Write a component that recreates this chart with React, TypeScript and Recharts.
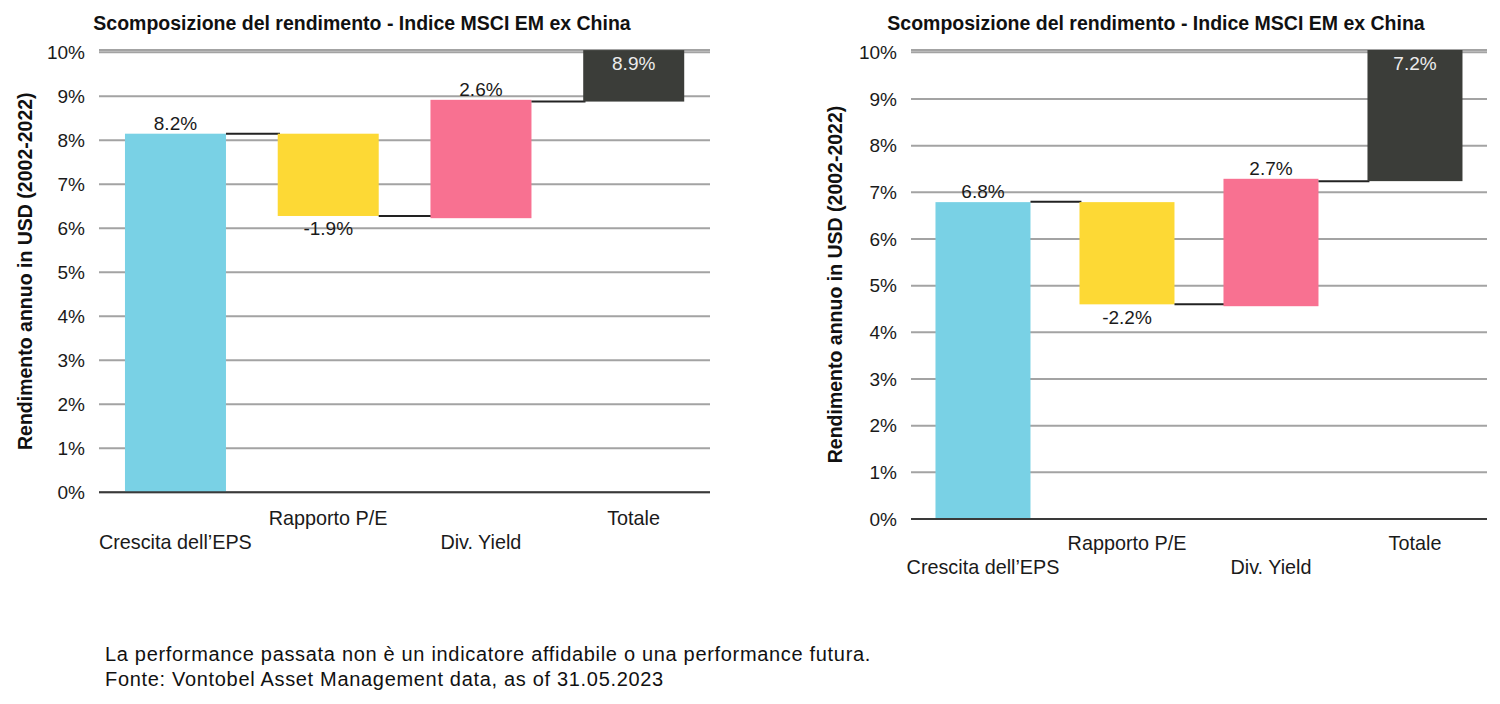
import React from 'react';
import { BarChart, Bar, XAxis, YAxis, CartesianGrid } from 'recharts';

// ---- data ----
const categories = ['Crescita dell\u2019EPS', 'Rapporto P/E', 'Div. Yield', 'Totale'];
const yTicks = [0, 1, 2, 3, 4, 5, 6, 7, 8, 9, 10];

const leftLow = [0, 6.28, 6.23, 8.88];
const leftHigh = [8.15, 8.15, 8.92, 10.05];
const leftLabels = [8.2, -1.9, 2.6, 8.9];
const leftLinks = [8.15, 6.28, 8.88, null];

const rightLow = [0, 4.6, 4.56, 7.24];
const rightHigh = [6.79, 6.79, 7.29, 10.05];
const rightLabels = [6.8, -2.2, 2.7, 7.2];
const rightLinks = [6.8, 4.6, 7.24, null];

const titleText = 'Scomposizione del rendimento - Indice MSCI EM ex China';
const yAxisTitle = 'Rendimento annuo in USD (2002-2022)';
const footerLines = [
  'La performance passata non \u00e8 un indicatore affidabile o una performance futura.',
  'Fonte: Vontobel Asset Management data, as of 31.05.2023',
];

// ---- styles ----
const barColors = ['#79d1e5', '#fdd935', '#f87191', '#3b3d39'];
const FONT = '"Liberation Sans", Arial, Helvetica, sans-serif';
const CAT_GAP = 0.17;

const buildData = (low: number[], high: number[], labels: number[], links: (number | null)[]) =>
  categories.map((name, i) => ({
    name,
    range: [low[i], high[i]],
    label: labels[i],
    link: links[i],
  }));

const leftData = buildData(leftLow, leftHigh, leftLabels, leftLinks);
const rightData = buildData(rightLow, rightHigh, rightLabels, rightLinks);

const WaterfallShape = (props: any) => {
  const { x, y, width, height, payload } = props;
  const idx = categories.indexOf(payload.name);
  const [low, high] = payload.range;
  const ppu = height / (high - low);
  const gap = (width * 2 * CAT_GAP) / (1 - 2 * CAT_GAP);
  const isTotal = idx === categories.length - 1;
  const link = payload.link;
  const value = payload.label as number;
  let ty: number;
  let fill = '#1a1a1a';
  if (isTotal) {
    ty = y + 19.5;
    fill = '#ececec';
  } else if (value < 0) {
    ty = y + height + 19.5;
  } else {
    ty = y - 4;
  }
  return (
    <g>
      <rect x={x} y={y} width={width} height={height} fill={barColors[idx]} />
      {link != null && (
        <line
          x1={x + width}
          x2={x + width + gap + 2}
          y1={y + (high - link) * ppu}
          y2={y + (high - link) * ppu}
          stroke="#222"
          strokeWidth={2}
        />
      )}
      <text x={x + width / 2} y={ty} textAnchor="middle" fontSize={19} fontFamily={FONT} fill={fill}>
        {`${value.toFixed(1)}%`}
      </text>
    </g>
  );
};

const makeCatTick = (off1: number, off2: number) => (props: any) => {
  const { x, y, payload, index } = props;
  const dy = index % 2 === 1 ? off1 : off2;
  return (
    <text x={x} y={y + dy} textAnchor="middle" fontSize={19.8} fontFamily={FONT} fill="#1a1a1a">
      {payload.value}
    </text>
  );
};

const Waterfall = ({ data, width, height, margin, yWidth, labelDx, off1, off2 }: any) => (
  <BarChart width={width} height={height} data={data} margin={margin} barCategoryGap={`${CAT_GAP * 100}%`}>
    <CartesianGrid vertical={false} stroke="#a3a3a3" strokeWidth={2} />
    <XAxis
      dataKey="name"
      interval={0}
      height={60}
      tickLine={false}
      tickSize={0}
      tickMargin={0}
      axisLine={{ stroke: '#3a3a3a', strokeWidth: 2 }}
      tick={makeCatTick(off1, off2)}
    />
    <YAxis
      type="number"
      domain={[0, 10.05]}
      ticks={yTicks}
      interval={0}
      width={yWidth}
      axisLine={false}
      tickLine={false}
      tickSize={0}
      tickMargin={14}
      tickFormatter={(v: number) => `${v}%`}
      tick={{ fontSize: 19, fill: '#1a1a1a', fontFamily: FONT }}
      label={{
        value: yAxisTitle,
        angle: -90,
        position: 'center',
        dx: labelDx,
        style: { fontWeight: 'bold', fontSize: 19.5, fill: '#111', fontFamily: FONT },
      }}
    />
    <Bar dataKey="range" isAnimationActive={false} shape={WaterfallShape} />
  </BarChart>
);

const titleStyle: React.CSSProperties = {
  position: 'absolute',
  top: 11,
  fontFamily: FONT,
  fontWeight: 'bold',
  fontSize: 19.5,
  lineHeight: '24px',
  color: '#111',
  textAlign: 'center',
  whiteSpace: 'nowrap',
};

export default function App() {
  return (
    <div
      style={{
        position: 'absolute',
        left: 0,
        top: 0,
        width: 1500,
        height: 704,
        background: '#fff',
        overflow: 'hidden',
      }}
    >
      <div style={{ ...titleStyle, left: 0, width: 724 }}>{titleText}</div>
      <div style={{ ...titleStyle, left: 800, width: 712 }}>{titleText}</div>
      <div style={{ position: 'absolute', left: 0, top: 0 }}>
        <Waterfall
          data={leftData}
          width={720}
          height={560}
          margin={{ top: 50.1, right: 10, bottom: 7.7, left: 0 }}
          yWidth={99}
          labelDx={-24.5}
          off1={33}
          off2={57}
        />
      </div>
      <div style={{ position: 'absolute', left: 800, top: 0 }}>
        <Waterfall
          data={rightData}
          width={700}
          height={590}
          margin={{ top: 50, right: 13, bottom: 11, left: 0 }}
          yWidth={111}
          labelDx={-20.5}
          off1={31}
          off2={55}
        />
      </div>
      <div
        style={{
          position: 'absolute',
          left: 105,
          top: 642,
          fontFamily: FONT,
          fontSize: 20,
          letterSpacing: 0.68,
          lineHeight: '25px',
          color: '#111',
          whiteSpace: 'nowrap',
        }}
      >
        {footerLines.map((l) => (
          <div key={l}>{l}</div>
        ))}
      </div>
    </div>
  );
}
